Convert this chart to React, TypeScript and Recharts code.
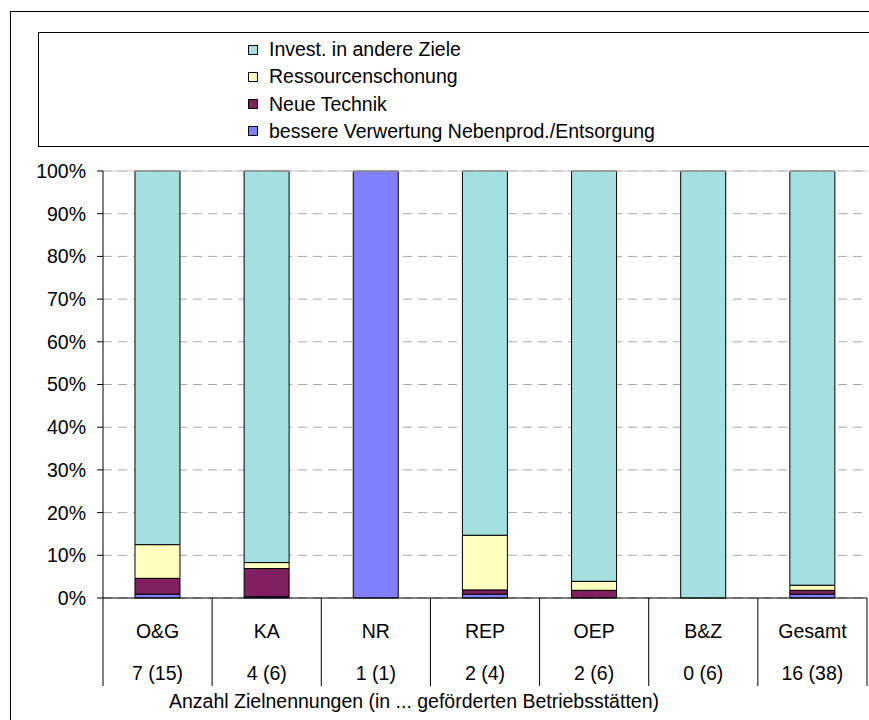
import React from 'react';
import {
  BarChart,
  Bar,
  XAxis,
  YAxis,
  CartesianGrid,
  ReferenceLine,
} from 'recharts';

// Kategorien und Werte (Anteile in %)
const categories = ['O&G', 'KA', 'NR', 'REP', 'OEP', 'B&Z', 'Gesamt'];
const counts = ['7 (15)', '4 (6)', '1 (1)', '2 (4)', '2 (6)', '0 (6)', '16 (38)'];
const verwertung = [0.9, 0.3, 100, 0.9, 0, 0, 0.9];
const technik = [3.7, 6.6, 0, 1.0, 1.8, 0, 0.9];
const ressourcen = [7.9, 1.4, 0, 12.8, 2.1, 0, 1.2];
const invest = [87.5, 91.7, 0, 85.3, 96.1, 100, 97.0];
const yTicks = [0, 10, 20, 30, 40, 50, 60, 70, 80, 90, 100];

const colors = {
  invest: '#A4E0E0',
  ressourcen: '#FFFFC0',
  technik: '#802060',
  verwertung: '#8080FF',
  grid: '#A8A8A8',
  border: '#C8C8C8',
};

// Reihenfolge von unten nach oben
const series = [
  { key: 'verwertung', name: 'bessere Verwertung Nebenprod./Entsorgung', color: colors.verwertung },
  { key: 'technik', name: 'Neue Technik', color: colors.technik },
  { key: 'ressourcen', name: 'Ressourcenschonung', color: colors.ressourcen },
  { key: 'invest', name: 'Invest. in andere Ziele', color: colors.invest },
];

const data = categories.map((name, i) => ({
  name,
  count: counts[i],
  verwertung: verwertung[i],
  technik: technik[i],
  ressourcen: ressourcen[i],
  invest: invest[i],
}));

const FONT = '"Liberation Sans", Arial, sans-serif';
const FS = 19.5;
const W = 869;
const H = 720;
const Y_AXIS_W = 103;
const MARGIN = { top: 171, right: 2, left: 0, bottom: 0 };
const BAND = (W - MARGIN.left - MARGIN.right - Y_AXIS_W) / categories.length;

const CategoryTick = (props: any) => {
  const { x, y, payload, index } = props;
  const left = x - BAND / 2;
  const right = x + BAND / 2;
  return (
    <g>
      <line x1={left} y1={y} x2={left} y2={y + 88} stroke="#000" />
      {index === categories.length - 1 && (
        <line x1={right} y1={y} x2={right} y2={y + 88} stroke="#000" />
      )}
      <text x={x} y={y + 33} textAnchor="middle" dominantBaseline="central" fontSize={FS} fontFamily={FONT} fill="#000">
        {payload.value}
      </text>
      <text x={x} y={y + 75} textAnchor="middle" dominantBaseline="central" fontSize={FS} fontFamily={FONT} fill="#000">
        {counts[index]}
      </text>
    </g>
  );
};

export default function App() {
  return (
    <div style={{ position: 'fixed', left: 0, top: 0, width: W, height: H, overflow: 'hidden', background: '#fff', fontFamily: FONT }}>
      {/* Rahmen */}
      <div style={{ position: 'absolute', left: 10, top: 11, width: 1000, height: 1000, border: '1px solid #000', boxSizing: 'border-box' }} />
      {/* Legende */}
      <div style={{ position: 'absolute', left: 38, top: 32, width: 1000, height: 115, border: '1px solid #000', boxSizing: 'border-box', background: '#fff' }}>
        {[...series].reverse().map((s, i) => (
          <div key={s.key} style={{ position: 'absolute', left: 209, top: 3 + i * 27.3, height: 27, display: 'flex', alignItems: 'center', fontSize: FS, color: '#000', whiteSpace: 'nowrap' }}>
            <span style={{ display: 'inline-block', width: 8, height: 8, background: s.color, border: '1px solid #000', marginRight: 11 }} />
            {s.name}
          </div>
        ))}
      </div>
      <div style={{ position: 'absolute', left: 0, top: 0 }}>
        <BarChart width={W} height={H} data={data} margin={MARGIN} barCategoryGap="29.3%">
          <CartesianGrid vertical={false} stroke={colors.grid} strokeDasharray="9 6" />
          <ReferenceLine y={100} stroke={colors.border} ifOverflow="extendDomain" />
          <XAxis
            dataKey="name"
            height={H - MARGIN.top - (598 - 171) - MARGIN.bottom}
            axisLine={{ stroke: '#000' }}
            tickLine={false}
            tickSize={0}
            tickMargin={0}
            interval={0}
            tick={<CategoryTick />}
          />
          <YAxis
            width={Y_AXIS_W}
            domain={[0, 100]}
            ticks={yTicks}
            tickFormatter={(v) => `${v}%`}
            axisLine={{ stroke: '#000' }}
            tickLine={{ stroke: '#000' }}
            tickSize={6}
            tickMargin={11}
            tick={{ fill: '#000', fontSize: FS, fontFamily: FONT }}
            interval={0}
          />
          <YAxis yAxisId="frame" orientation="right" width={0} tick={false} axisLine={{ stroke: colors.border }} tickLine={false} />
          {series.map((s) => (
            <Bar
              key={s.key}
              dataKey={s.key}
              name={s.name}
              stackId="a"
              fill={s.color}
              stroke="#000"
              strokeWidth={1}
              isAnimationActive={false}
            />
          ))}
        </BarChart>
      </div>
      {/* Achsentitel */}
      <div style={{ position: 'absolute', left: 114, width: 600, top: 690, textAlign: 'center', fontSize: FS, color: '#000', whiteSpace: 'nowrap' }}>
        Anzahl Zielnennungen (in ... geförderten Betriebsstätten)
      </div>
    </div>
  );
}
